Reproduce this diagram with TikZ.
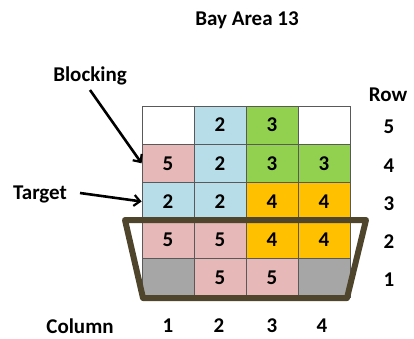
\documentclass[tikz,border=0pt]{standalone}
\usepackage{fontspec}
\setmainfont{Carlito}
\usetikzlibrary{arrows.meta}
\definecolor{cpink}{RGB}{230,184,183}
\definecolor{cblue}{RGB}{183,222,232}
\definecolor{cgreen}{RGB}{146,208,80}
\definecolor{corange}{RGB}{255,192,0}
\definecolor{cgray}{RGB}{166,166,166}
\definecolor{cgrid}{RGB}{89,89,89}
\definecolor{cbasket}{RGB}{79,69,44}
\begin{document}
\begin{tikzpicture}[x=1pt,y=-1pt,
  lbl/.style={font=\fontsize{21}{24}\selectfont\bfseries, inner sep=0pt},
  cell/.style={draw=cgrid, line width=0.8pt, minimum width=52pt, minimum height=38.2pt, inner sep=0pt, font=\fontsize{21}{24}\selectfont\bfseries},
  pointer/.style={line width=2.6pt, -{Straight Barb[length=6pt,width=11pt,line width=2.2pt]}},
  basket/.style={draw=cbasket, line width=6pt, line join=round}]
\path[use as bounding box] (0,0) rectangle (414,338);
% row 5
\node[cell, fill=white]   (c15) at (168,125.1) {};
\node[cell, fill=cblue]   (c25) at (220,125.1) {2};
\node[cell, fill=cgreen]  (c35) at (272,125.1) {3};
\node[cell, fill=white]   (c45) at (324,125.1) {};
% row 4
\node[cell, fill=cpink]   (c14) at (168,163.3) {5};
\node[cell, fill=cblue]   (c24) at (220,163.3) {2};
\node[cell, fill=cgreen]  (c34) at (272,163.3) {3};
\node[cell, fill=cgreen]  (c44) at (324,163.3) {3};
% row 3
\node[cell, fill=cblue]   (c13) at (168,201.5) {2};
\node[cell, fill=cblue]   (c23) at (220,201.5) {2};
\node[cell, fill=corange] (c33) at (272,201.5) {4};
\node[cell, fill=corange] (c43) at (324,201.5) {4};
% row 2
\node[cell, fill=cpink]   (c12) at (168,239.7) {5};
\node[cell, fill=cpink]   (c22) at (220,239.7) {5};
\node[cell, fill=corange] (c32) at (272,239.7) {4};
\node[cell, fill=corange] (c42) at (324,239.7) {4};
% row 1
\node[cell, fill=cgray]   (c11) at (168,277.9) {};
\node[cell, fill=cpink]   (c21) at (220,277.9) {5};
\node[cell, fill=cpink]   (c31) at (272,277.9) {5};
\node[cell, fill=cgray]   (c41) at (324,277.9) {};
% basket
\draw[basket] (125,220) -- (366,220) -- (347,298) -- (143,298) -- cycle;
% labels
\node[lbl] (title) at (247,20) {Bay Area 13};
\node[lbl] (blocking) at (90,76) {Blocking};
\node[lbl] (target) at (40,194) {Target};
\node[lbl] (rowlbl) at (388,95) {Row};
\node[lbl] (r5) at (389,127) {5};
\node[lbl] (r4) at (389,166) {4};
\node[lbl] (r3) at (389,204) {3};
\node[lbl] (r2) at (389,242) {2};
\node[lbl] (r1) at (389,280) {1};
\node[lbl] (collbl) at (80,326) {Column};
\node[lbl] (k1) at (168,326) {1};
\node[lbl] (k2) at (219,326) {2};
\node[lbl] (k3) at (272,326) {3};
\node[lbl] (k4) at (322,326) {4};
% arrows
\coordinate (bstart) at (90,90);
\coordinate (tstart) at (80,193);
\draw[pointer] (bstart) -- (c14.west);
\draw[pointer] (tstart) -- (c13.west);
\end{tikzpicture}
\end{document}
